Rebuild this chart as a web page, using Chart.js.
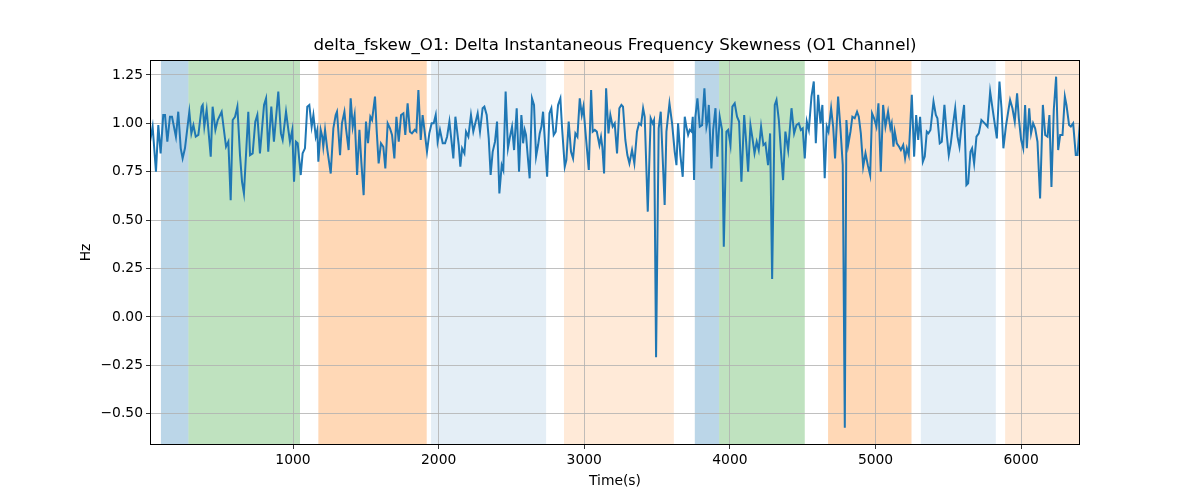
<!DOCTYPE html>
<html><head><meta charset="utf-8">
<script src="https://cdn.jsdelivr.net/npm/chart.js@4/dist/chart.umd.min.js"></script>
<style>html,body{margin:0;padding:0;background:#fff;}#wrap{width:1200px;height:500px;}</style>
</head><body><div id="wrap"><canvas id="c" width="1200" height="500"></canvas></div>
<script>
const titleText = "delta_fskew_O1: Delta Instantaneous Frequency Skewness (O1 Channel)";
const xLabel = "Time(s)";
const yLabel = "Hz";
const xTicks = [1000, 2000, 3000, 4000, 5000, 6000];
const yTicks = [-0.5, -0.25, 0, 0.25, 0.5, 0.75, 1.0, 1.25];

const times = [
18,36,59,75,91,109,121,137,155,169,196,212,229,242,258,288,302,316,332,350,373,380,391,407,435,448,467,483,510,540,556,572,586,602,618,636,650,663,693,705,723,741,755,773,801,815,830,851,869,899,917,929,952,968,979,995,1007,1020,1032,1053,1066,1082,1098,1112,1128,1140,1156,1167,1174,1190,1201,1208,1220,1236,1259,1277,1293,
1302,1323,1336,1353,1364,1382,1396,1410,1423,1440,1456,1469,1485,1501,1515,1531,1543,1563,1575,1588,1604,1620,1634,1650,1666,1680,1696,1710,1726,1742,1758,1771,1787,1803,1817,1836,1847,1861,1877,1890,1904,1920,1936,1952,1966,1980,1993,2009,2028,2044,2058,2074,2085,2101,2115,2126,2138,2149,2161,2177,2188,2204,2222,2238,2268,2284,2302,2314,2330,2344,2357,2371,2387,2401,2417,2433,2444,2460,2476,2490,2504,2518,2536,2552,2568,
2573,2580,2591,2600,2612,2625,2641,2655,2669,2683,2694,2706,2717,2745,2761,2774,2790,2804,2820,2836,2847,2866,2877,2893,2909,2923,2939,2953,2969,2983,2994,3008,3031,3047,3058,3072,3086,3104,3115,3124,3136,3150,3166,3179,3195,3209,3225,3241,3255,3266,3282,3296,3310,3328,3344,3362,3376,3390,3404,3415,3436,3456,3470,3479,3493,3511,3525,3552,3564,3585,3603,3621,3633,3644,3660,3676,3690,3701,3713,3724,3736,3745,3754,3763,3777,3793,3809,3825,3839,3848,
3855,3873,3885,3901,3914,3930,3946,3958,3976,3988,4004,4017,4033,4049,4063,4079,4098,4109,4125,4141,4155,4169,4184,4198,4214,4230,4244,4262,4276,4290,4308,4320,4336,4349,4365,4381,4400,4423,4441,4457,4473,4487,4500,4514,4528,4542,4560,4576,4590,4606,4622,4635,4651,4665,4677,4695,4709,4722,4743,4759,4775,4789,4800,4812,4828,4841,4857,4873,4885,4899,4915,4931,4947,4963,4976,4990,5006,5020,5036,5052,5068,5086,5102,5111,5123,
5132,5146,5162,5174,5190,5203,5215,5228,5249,5265,5279,5293,5306,5325,5338,5352,5363,5377,5398,5414,5425,5441,5455,5473,5489,5503,5517,5533,5547,5563,5576,5592,5608,5624,5636,5652,5663,5677,5693,5709,5727,5750,5769,5787,5803,5833,5851,5865,5878,5895,5911,5924,5940,5956,5972,5984,6000,6014,6027,6039,6055,6068,6082,6096,6112,6130,6149,6165,6181,6194,6208,6224,6240,6254,6268,6284,6300,6311,6329,6341,6357,6375,6387,6404
];

const values = [
0.905,0.983,0.750,0.991,0.845,1.043,1.043,0.905,1.034,1.034,0.931,1.060,0.871,0.819,0.871,1.060,0.948,0.991,0.931,0.940,1.086,1.095,0.983,1.069,0.828,1.086,0.966,1.017,1.060,0.879,0.905,0.603,1.017,1.034,1.086,0.836,0.698,0.638,1.060,0.836,0.845,1.009,1.043,0.845,1.095,1.129,0.853,1.086,0.905,1.164,0.948,0.914,1.060,0.966,0.905,0.966,0.698,0.905,0.897,0.733,0.845,0.871,1.086,1.095,0.983,1.043,0.931,0.966,0.802,0.966,0.931,0.879,0.966,0.862,0.741,0.974,1.043,
1.060,0.836,1.000,1.060,0.974,0.862,1.129,0.983,1.043,0.733,0.966,0.802,0.629,1.009,0.897,1.034,1.017,1.138,0.957,0.793,0.897,0.879,0.767,1.000,0.974,0.940,0.819,1.034,0.905,1.043,1.052,0.940,1.103,0.957,0.948,0.966,0.957,1.172,0.914,1.043,0.957,0.853,0.948,1.000,1.000,1.043,0.905,0.966,0.897,0.897,0.931,1.009,0.931,0.819,1.034,0.966,0.888,0.776,0.871,0.845,0.957,0.931,1.043,0.957,1.052,0.957,1.078,1.086,1.043,0.922,0.733,0.853,0.905,1.009,0.638,0.784,0.759,1.164,0.871,0.931,0.983,0.862,1.078,0.750,1.043,
1.000,0.897,0.966,0.940,0.828,0.716,1.129,1.095,0.828,0.888,0.948,0.983,1.060,0.724,1.052,1.078,0.940,0.957,1.095,1.129,0.983,0.776,0.810,1.009,0.853,0.819,0.948,0.931,1.129,1.043,1.086,0.957,0.759,1.172,0.957,0.966,0.957,0.888,0.931,0.879,0.741,1.181,0.948,1.043,0.983,1.000,0.845,1.078,1.095,1.086,0.914,0.836,0.793,0.862,0.793,0.957,1.000,0.991,1.078,1.034,0.544,1.026,1.000,1.017,-0.208,0.974,1.060,0.578,0.957,1.103,1.000,0.853,0.784,1.000,0.836,0.724,1.034,0.983,0.940,0.966,0.957,1.034,0.707,1.034,1.129,0.983,0.991,1.181,0.983,1.017,
1.095,0.767,0.966,1.078,0.828,1.034,0.966,0.363,0.957,0.966,0.888,1.086,1.103,1.034,1.009,0.698,1.043,0.931,0.750,0.991,0.922,0.845,0.905,0.862,0.983,0.888,0.897,0.784,0.948,0.196,1.095,1.121,1.017,0.871,0.707,0.957,0.862,1.078,0.948,0.991,1.000,0.966,0.974,0.819,1.009,0.966,1.138,1.216,0.897,1.147,1.000,1.095,0.716,0.983,0.957,1.078,0.983,0.819,1.138,0.974,0.784,-0.572,1.017,0.888,0.957,1.034,1.026,1.060,1.034,0.948,0.776,0.845,0.784,0.733,1.052,1.026,0.983,1.103,0.750,1.095,0.983,1.060,0.974,1.000,0.879,
0.957,0.897,0.879,0.862,0.888,0.819,0.871,0.836,1.147,0.828,1.043,0.914,1.034,0.802,0.828,0.957,0.948,0.966,1.112,1.043,1.026,0.897,0.905,1.095,0.940,0.836,0.897,1.000,1.078,0.931,0.879,1.000,1.095,0.681,0.690,0.853,0.871,0.793,0.931,0.948,1.017,1.000,0.983,1.164,1.078,0.922,1.216,1.078,0.871,0.983,1.060,1.121,1.078,1.009,1.155,1.026,0.914,0.871,1.095,0.871,1.078,0.948,1.000,0.974,0.905,0.612,1.095,0.940,0.931,1.043,0.672,1.069,1.241,0.862,0.940,0.940,1.138,1.095,0.991,0.983,1.000,0.836,0.836,1.009
];

const spanStarts = [93, 282, 1174, 1948, 2861, 3759, 3926, 4674, 5311, 5890];
const spanEnds   = [282, 1048, 1918, 2738, 3615, 3926, 4514, 5247, 5826, 6404];
const spanColors = [
  'rgba(31,119,180,0.3)', 'rgba(44,160,44,0.3)', 'rgba(255,127,14,0.3)',
  'rgba(31,119,180,0.12)', 'rgba(255,127,14,0.16)',
  'rgba(31,119,180,0.3)', 'rgba(44,160,44,0.3)', 'rgba(255,127,14,0.3)',
  'rgba(31,119,180,0.12)', 'rgba(255,127,14,0.16)'
];

const FONT = "'DejaVu Sans', sans-serif";
Chart.defaults.font.family = FONT;
Chart.defaults.color = '#000';

const points = times.map((t, i) => ({x: t, y: values[i]}));

const bgSpans = {
  id: 'bgSpans',
  beforeDraw(chart) {
    const ctx = chart.ctx, a = chart.chartArea, xs = chart.scales.x;
    ctx.save();
    ctx.fillStyle = '#fff';
    ctx.fillRect(0, 0, chart.width, chart.height);
    for (let i = 0; i < spanStarts.length; i++) {
      let x1 = Math.max(a.left, xs.getPixelForValue(spanStarts[i]));
      let x2 = Math.min(a.right, xs.getPixelForValue(spanEnds[i]));
      ctx.fillStyle = spanColors[i];
      ctx.fillRect(x1, a.top, x2 - x1, a.bottom - a.top);
    }
    ctx.restore();
  }
};

const frameAndText = {
  id: 'frameAndText',
  afterDraw(chart) {
    const ctx = chart.ctx, a = chart.chartArea;
    ctx.save();
    ctx.strokeStyle = '#000';
    ctx.lineWidth = 1;
    ctx.strokeRect(Math.round(a.left) + 0.5, Math.round(a.top) + 0.5, Math.round(a.right - a.left) - 1, Math.round(a.bottom - a.top) - 1);
    ctx.fillStyle = '#000';
    ctx.textAlign = 'center';
    ctx.textBaseline = 'middle';
    ctx.font = "16.67px " + FONT;
    ctx.fillText(titleText, (a.left + a.right) / 2, 46);
    ctx.font = "13.89px " + FONT;
    ctx.fillText(xLabel, (a.left + a.right) / 2, 481);
    ctx.translate(86, (a.top + a.bottom) / 2);
    ctx.rotate(-Math.PI / 2);
    ctx.fillText(yLabel, 0, 0);
    ctx.restore();
  }
};

new Chart(document.getElementById('c'), {
  type: 'line',
  data: {
    datasets: [{
      data: points,
      borderColor: '#1f77b4',
      borderWidth: 2,
      pointRadius: 0,
      tension: 0,
      fill: false
    }]
  },
  options: {
    responsive: false,
    animation: false,
    devicePixelRatio: 1,
    layout: { padding: { left: 0, right: 120, top: 60, bottom: 0 } },
    plugins: { legend: { display: false }, tooltip: { enabled: false } },
    scales: {
      x: {
        type: 'linear',
        min: 18, max: 6404,
        afterBuildTicks(s) { s.ticks = xTicks.map(v => ({value: v})); },
        afterFit(s) { s.height = 55; },
        ticks: { autoSkip: false, maxRotation: 0, padding: 3, font: { size: 13.89 }, color: '#000',
                 callback: v => String(v) },
        grid: { color: '#b0b0b0', lineWidth: 0.8, tickLength: 4, tickColor: '#000', drawTicks: true },
        border: { display: false }
      },
      y: {
        type: 'linear',
        min: -0.661, max: 1.327,
        afterBuildTicks(s) { s.ticks = yTicks.map(v => ({value: v})); },
        afterFit(s) { s.width = 150; },
        ticks: { autoSkip: false, padding: 3, font: { size: 13.89 }, color: '#000',
                 callback: v => (v < 0 ? '\u2212' : '') + Math.abs(v).toFixed(2) },
        grid: { color: '#b0b0b0', lineWidth: 0.8, tickLength: 4, tickColor: '#000', drawTicks: true },
        border: { display: false }
      }
    }
  },
  plugins: [bgSpans, frameAndText]
});
</script>
</body></html>
